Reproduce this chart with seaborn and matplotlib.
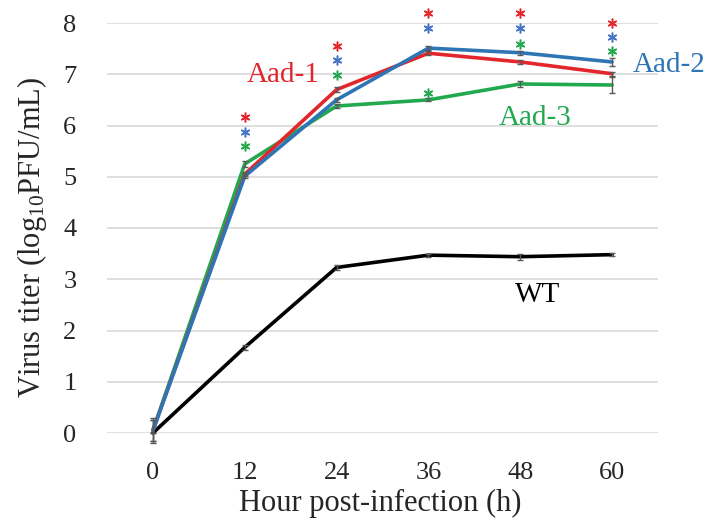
import matplotlib
matplotlib.use("Agg")
import matplotlib.pyplot as plt
import seaborn as sns
import pandas as pd

hours = [0, 12, 24, 36, 48, 60]
series_names = ["WT", "Aad-1", "Aad-2", "Aad-3"]
wt = [0.0, 1.67, 3.23, 3.47, 3.44, 3.48]
aad1 = [0.05, 5.05, 6.70, 7.41, 7.24, 7.01]
aad2 = [0.05, 5.01, 6.50, 7.51, 7.42, 7.24]
aad3 = [0.05, 5.25, 6.38, 6.50, 6.81, 6.79]
wt_err = [0.0, 0.05, 0.04, 0.03, 0.06, 0.03]
aad1_err = [0.2, 0.04, 0.05, 0.04, 0.04, 0.04]
aad2_err = [0.2, 0.04, 0.04, 0.04, 0.04, 0.07]
aad3_err = [0.25, 0.05, 0.04, 0.03, 0.05, 0.15]

# significance asterisk positions (y values) per series
star_hours_red = [12, 24, 36, 48, 60]
star_red = [6.17, 7.55, 8.2, 8.2, 8.0]
star_hours_blue = [12, 24, 36, 48, 60]
star_blue = [5.88, 7.27, 7.9, 7.9, 7.72]
star_hours_green = [12, 24, 36, 48, 60]
star_green = [5.6, 6.98, 6.63, 7.6, 7.45]

colors = {"WT": "#000000", "Aad-1": "#E3262B", "Aad-2": "#2E75B6", "Aad-3": "#22A94F"}

rows = []
for name, vals in zip(series_names, [wt, aad1, aad2, aad3]):
    for h, v in zip(hours, vals):
        rows.append({"hour": h, "titer": v, "strain": name})
df = pd.DataFrame(rows)

sns.set_theme(style="white")
plt.rcParams["font.family"] = ["Liberation Serif", "DejaVu Serif"]
plt.rcParams["mathtext.fontset"] = "custom"
plt.rcParams["mathtext.rm"] = "Liberation Serif"
plt.rcParams["mathtext.it"] = "Liberation Serif:italic"

fig = plt.figure(figsize=(7.09, 5.22), dpi=100)
ax = fig.add_axes([107 / 709, 1 - 433 / 522, (658 - 107) / 709, (433 - 23) / 522])

for y in range(0, 9):
    ax.axhline(y, color="#D9D9D9", lw=1.2, zorder=0)

order = ["WT", "Aad-3", "Aad-1", "Aad-2"]
for name in order:
    sub = df[df.strain == name]
    sns.lineplot(data=sub, x="hour", y="titer", color=colors[name], lw=2.6,
                 ax=ax, legend=False, clip_on=False, zorder=3)

for vals, errs in zip([wt, aad1, aad2, aad3], [wt_err, aad1_err, aad2_err, aad3_err]):
    ax.errorbar(hours, vals, yerr=errs, fmt="none", ecolor="#595959",
                elinewidth=1, capsize=2.5, capthick=1, zorder=4, clip_on=False)

for hs, ys, c in [(star_hours_red, star_red, colors["Aad-1"]),
                  (star_hours_blue, star_blue, "#4472C4"),
                  (star_hours_green, star_green, colors["Aad-3"])]:
    ax.plot(hs, ys, ls="none", marker=(6, 2, 0), ms=7, mew=1.1, color=c,
            clip_on=False, zorder=5)

ax.text(17.0, 6.98, "Aad-1", color=colors["Aad-1"], fontsize=21, ha="center", va="center")
ax.text(67.4, 7.18, "Aad-2", color=colors["Aad-2"], fontsize=21, ha="center", va="center")
ax.text(50.0, 6.15, "Aad-3", color=colors["Aad-3"], fontsize=21, ha="center", va="center")
ax.text(50.3, 2.69, "WT", color="#000000", fontsize=21, ha="center", va="center")

ax.set_xlim(-6, 66)
ax.set_ylim(0, 8)
ax.set_xticks(hours)
ax.set_xticklabels([str(h) for h in hours])
ax.set_yticks(range(0, 9))
ax.tick_params(axis="both", labelsize=19, length=0)
ax.tick_params(axis="y", pad=22)
ax.tick_params(axis="x", pad=21)
for s in ax.spines.values():
    s.set_visible(False)
ax.set_xlabel("Hour post-infection (h)", fontsize=22)
ax.set_ylabel("Virus titer (log$_{10}$PFU/mL)", fontsize=22)
ax.xaxis.set_label_coords(0.4955, -0.137)
ax.yaxis.set_label_coords(-0.105, 0.476)

fig.savefig("out.png", dpi=100)
